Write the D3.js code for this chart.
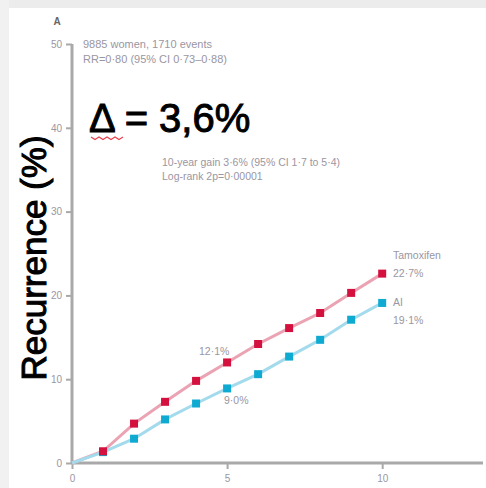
<!DOCTYPE html>
<html>
<head>
<meta charset="utf-8">
<script src="https://cdn.jsdelivr.net/npm/d3@7"></script>
<style>
  html, body { margin: 0; padding: 0; background: #fff; }
  svg { display: block; font-family: "Liberation Sans", Arial, sans-serif; }
</style>
</head>
<body>
<svg id="chart" width="486" height="488"></svg>
<script>
// ---- data ----
const years = [0, 1, 2, 3, 4, 5, 6, 7, 8, 9, 10];
const tamoxifen = [0, 1.4, 4.7, 7.3, 9.8, 12.0, 14.2, 16.1, 17.9, 20.3, 22.6];
const aromataseInhibitor = [0, 1.3, 2.9, 5.2, 7.1, 8.9, 10.6, 12.7, 14.7, 17.1, 19.1];
const xTicks = [0, 5, 10];
const yTicks = [0, 10, 20, 30, 40, 50];
const seriesNames = ["Tamoxifen", "AI"];
const endLabels = ["22·7%", "19·1%"];
const midLabels = ["12·1%", "9·0%"];
const infoTop = ["9885 women, 1710 events", "RR=0·80 (95% CI 0·73–0·88)"];
const infoMid = ["10-year gain 3·6% (95% CI 1·7 to 5·4)", "Log-rank 2p=0·00001"];
const bigLabel = "Δ = 3,6%";
const yTitle = "Recurrence (%)";
const panel = "A";

const svg = d3.select("#chart");
const W = 486, H = 488;

// window frame bands
svg.append("rect").attr("x", 0).attr("y", 0).attr("width", W).attr("height", 8).attr("fill", "#ececec");
svg.append("rect").attr("x", 0).attr("y", 0).attr("width", 9).attr("height", H).attr("fill", "#f1f1f1");

const x = d3.scaleLinear().domain([0, 13.25]).range([72, 483]);
const y = d3.scaleLinear().domain([0, 50]).range([463, 44]);

const axisColor = "#a9a9a9";
const tickText = "#9a96a2";

// y axis
const yAxis = svg.append("g").attr("transform", `translate(${x(0)},0)`)
  .call(d3.axisLeft(y).tickValues(yTicks).tickSize(6).tickPadding(4));
yAxis.select(".domain").attr("stroke", axisColor).attr("stroke-width", 3).attr("d", `M0,${y(50)}V${y(0)}`);
yAxis.selectAll(".tick line").attr("stroke", axisColor).attr("stroke-width", 2);
yAxis.selectAll(".tick text").attr("fill", tickText).attr("font-size", 10).attr("font-family", "Liberation Sans, Arial, sans-serif");

// x axis
const xAxis = svg.append("g").attr("transform", `translate(0,${y(0)})`)
  .call(d3.axisBottom(x).tickValues(xTicks).tickSize(6).tickPadding(6));
xAxis.select(".domain").attr("stroke", axisColor).attr("stroke-width", 3).attr("d", `M${x(0)},0H${x(13.25)}`);
xAxis.selectAll(".tick line").attr("stroke", axisColor).attr("stroke-width", 2);
xAxis.selectAll(".tick text").attr("fill", tickText).attr("font-size", 10).attr("font-family", "Liberation Sans, Arial, sans-serif");

// panel letter
svg.append("text").attr("x", 57).attr("y", 25).attr("text-anchor", "middle")
  .attr("font-size", 10).attr("font-weight", "bold").attr("fill", "#666").text(panel);

// y title
svg.append("text").attr("transform", `translate(46,258) rotate(-90)`)
  .attr("text-anchor", "middle").attr("font-size", 35).attr("fill", "#000")
  .attr("stroke", "#000").attr("stroke-width", 1).text(yTitle);

// big delta label
svg.append("text").attr("x", 89).attr("y", 132).attr("font-size", 40).attr("fill", "#000")
  .attr("stroke", "#000").attr("stroke-width", 1).text(bigLabel);
// red squiggle under delta
const sq = d3.range(0, 9).map(i => [91 + i * 4, i % 2 === 0 ? 137 : 139.5]);
svg.append("path").attr("d", d3.line()(sq)).attr("fill", "none").attr("stroke", "#e8404a").attr("stroke-width", 1.2);

// info texts
const infoColor = "#9a96a2";
infoTop.forEach((t, i) => {
  svg.append("text").attr("x", 83).attr("y", 48 + i * 15).attr("font-size", 11).attr("fill", infoColor).text(t);
});
infoMid.forEach((t, i) => {
  svg.append("text").attr("x", 162).attr("y", 166 + i * 14).attr("font-size", 10.5).attr("fill", infoColor).text(t);
});

// lines
const series = [
  { name: seriesNames[0], values: tamoxifen, line: "#eba3b3", mark: "#d3103e" },
  { name: seriesNames[1], values: aromataseInhibitor, line: "#a3dbec", mark: "#0eaad2" }
];
const lineGen = d3.line().x((d, i) => x(years[i])).y(d => y(d));
series.forEach(s => {
  svg.append("path").attr("d", lineGen(s.values)).attr("fill", "none")
    .attr("stroke", s.line).attr("stroke-width", 3);
});
// markers (AI first so tamoxifen sits on top at year 1)
[series[1], series[0]].forEach(s => {
  svg.append("g").selectAll("rect").data(s.values.slice(1)).join("rect")
    .attr("x", (d, i) => x(years[i + 1]) - 4)
    .attr("y", d => y(d) - 4)
    .attr("width", 8).attr("height", 8)
    .attr("fill", s.mark);
});

// end labels
const lblColor = "#9a96a2";
svg.append("text").attr("x", 393).attr("y", 259).attr("font-size", 10.5).attr("fill", lblColor).text(seriesNames[0]);
svg.append("text").attr("x", 393).attr("y", 277).attr("font-size", 10.5).attr("fill", lblColor).text(endLabels[0]);
svg.append("text").attr("x", 393).attr("y", 306).attr("font-size", 10.5).attr("fill", lblColor).text(seriesNames[1]);
svg.append("text").attr("x", 393).attr("y", 324).attr("font-size", 10.5).attr("fill", lblColor).text(endLabels[1]);

// 5-year labels
svg.append("text").attr("x", 199).attr("y", 355).attr("font-size", 10.5).attr("fill", lblColor).text(midLabels[0]);
svg.append("text").attr("x", 224).attr("y", 404).attr("font-size", 10.5).attr("fill", lblColor).text(midLabels[1]);
</script>
</body>
</html>
